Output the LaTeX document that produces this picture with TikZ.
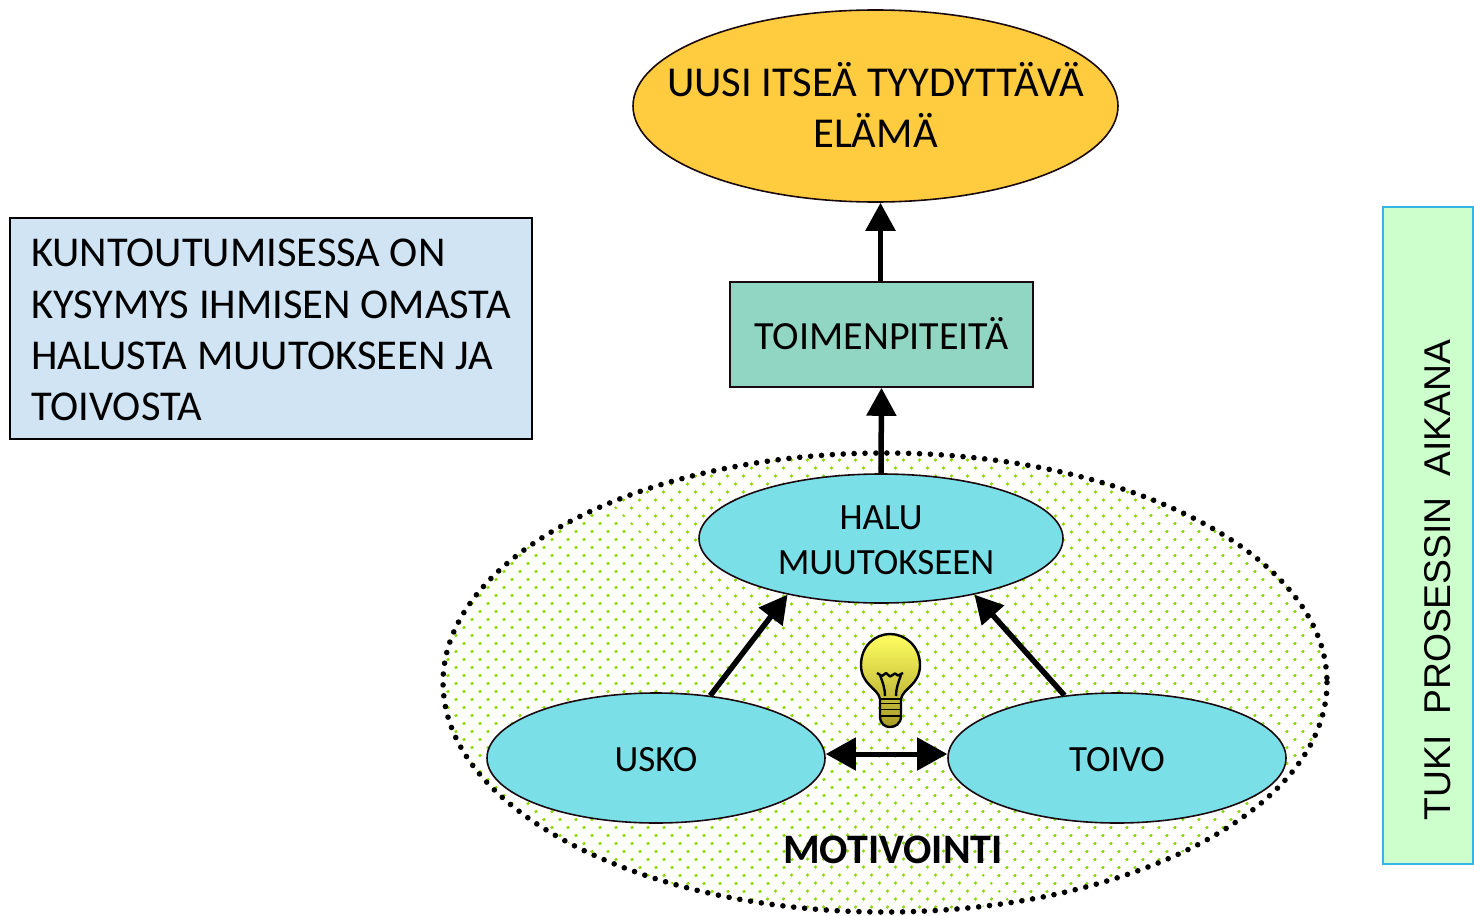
\documentclass[tikz,border=0pt]{standalone}
\usepackage{fontspec}
\setmainfont{Carlito}
\newfontfamily\tukifont{Liberation Sans}
\usetikzlibrary{shapes.geometric, arrows.meta, patterns.meta}

\definecolor{goalyellow}{HTML}{FFCC40}
\definecolor{actiongreen}{HTML}{90D6C2}
\definecolor{mindcyan}{HTML}{7ADFE6}
\definecolor{noteblue}{HTML}{D0E4F4}
\definecolor{tukigreen}{HTML}{CCFFCC}
\definecolor{tukiedge}{HTML}{33B5E5}
\definecolor{dotgreen}{HTML}{88DD00}
\definecolor{darkline}{HTML}{1A0A10}
\definecolor{bulbtop}{HTML}{FFFF60}
\definecolor{bulbmid}{HTML}{F4F26A}
\definecolor{bulbbottom}{HTML}{A89C28}

\tikzset{
    mindnode/.style={ellipse, draw=darkline, line width=1.6pt, fill=mindcyan, inner sep=-8pt, align=center, font=\fontsize{37}{45}\selectfont},
    bigarrow/.style={line width=5.5pt, -{Triangle[length=28pt, width=29pt]}},
    bulbline/.style={draw=black, line width=2.4pt, line join=round},
}

\begin{document}
\begin{tikzpicture}[x=1pt, y=-1pt]
    \useasboundingbox (0, 0) rectangle (1474, 915);

    \node [ellipse, minimum width=884pt, minimum height=459pt, inner sep=0pt, pattern={Dots[radius=1.5pt, distance=11.31pt, angle=45]}, pattern color=dotgreen] (motivointi) at (885, 682.5) {};
    \draw [line width=5.6pt, line cap=round, dash pattern=on 0pt off 10.9pt] (885, 682.5) ellipse [x radius=442, y radius=229.5];
    \node [font=\fontsize{42}{46}\selectfont\bfseries] (motivointilabel) at (893, 850) {MOTIVOINTI};

    \node [ellipse, draw=darkline, line width=1.6pt, fill=goalyellow, minimum width=485pt, minimum height=192pt, inner xsep=-50pt, inner ysep=0pt, align=center, font=\fontsize{42.6}{51}\selectfont] (elama) at (875.5, 106) {UUSI ITSEÄ TYYDYTTÄVÄ\\ELÄMÄ\rule[-3pt]{0pt}{0pt}};
    \node [draw=darkline, line width=1.6pt, fill=actiongreen, minimum width=303pt, minimum height=105pt, inner sep=0pt, font=\fontsize{40}{46}\selectfont] (toimenpiteita) at (881.5, 334.5) {TOIMENPITEITÄ\rule[-2pt]{0pt}{0pt}};
    \node [draw=black, line width=1.6pt, fill=noteblue, minimum width=522pt, minimum height=221pt, inner sep=0pt, align=left, font=\fontsize{42.5}{51.3}\selectfont] (kuntoutus) at (271, 328.5) {\rule{0pt}{31pt}KUNTOUTUMISESSA ON\\KYSYMYS IHMISEN OMASTA\\HALUSTA MUUTOKSEEN JA\\TOIVOSTA};
    \node [draw=tukiedge, line width=2pt, fill=tukigreen, minimum width=90pt, minimum height=657pt, inner sep=0pt] (tuki) at (1428, 535.5) {};
    \node [rotate=90, font=\tukifont\fontsize{37.3}{44}\selectfont] (tukilabel) at (1438, 580) {TUKI\ \ PROSESSIN\ \ AIKANA};

    \node [mindnode, minimum width=364pt, minimum height=129pt] (halu) at (881, 538.5) {\rule{0pt}{27pt}HALU\\\hspace*{10pt}MUUTOKSEEN};
    \node [mindnode, minimum width=338pt, minimum height=130pt] (usko) at (656, 758) {\rule{0pt}{28pt}USKO};
    \node [mindnode, minimum width=338pt, minimum height=130pt] (toivo) at (1117, 758) {\rule{0pt}{28pt}TOIVO};
    \coordinate (arrowlevel) at (885, 754);

    \draw [bigarrow] ([xshift=-1pt]toimenpiteita.north) -- ([xshift=-1pt]toimenpiteita.north |- elama.south);
    \draw [bigarrow] (halu.north) -- (toimenpiteita.south);
    \draw [bigarrow] (usko.49) -- (halu.211.7);
    \draw [bigarrow] (toivo.130.6) -- (halu.-31.5);
    \draw [line width=5pt, {Triangle[length=30pt, width=32pt]}-{Triangle[length=30pt, width=32pt]}] (usko.east |- arrowlevel) -- (toivo.west |- arrowlevel);

    \draw [bulbline, top color=bulbtop, middle color=bulbmid, bottom color=bulbbottom]
        (880, 699) .. controls (878, 688) and (861, 685) .. (861, 665)
        .. controls (861, 646) and (875, 634) .. (890, 634)
        .. controls (905, 634) and (920, 646) .. (920, 665)
        .. controls (920, 685) and (903, 688) .. (901, 699)
        -- (901, 716) .. controls (901, 724) and (895, 727) .. (890, 727)
        .. controls (885, 727) and (880, 724) .. (880, 716) -- cycle;
    \draw [bulbline] (880, 699) -- (901, 699);
    \draw [bulbline, line width=1.8pt] (880, 703.5) -- (901, 703.5) (880, 709.5) -- (901, 709.5) (880, 716) -- (901, 716);
    \draw [bulbline] (877, 673) -- (882, 676) -- (886, 673) -- (890, 676.5) -- (895, 673.5) -- (898, 675.5) -- (903, 673);
    \draw [bulbline] (880, 675) .. controls (883, 683) and (885, 689) .. (885, 696);
    \draw [bulbline] (901, 675) .. controls (898, 683) and (896, 689) .. (896, 696);
\end{tikzpicture}
\end{document}
